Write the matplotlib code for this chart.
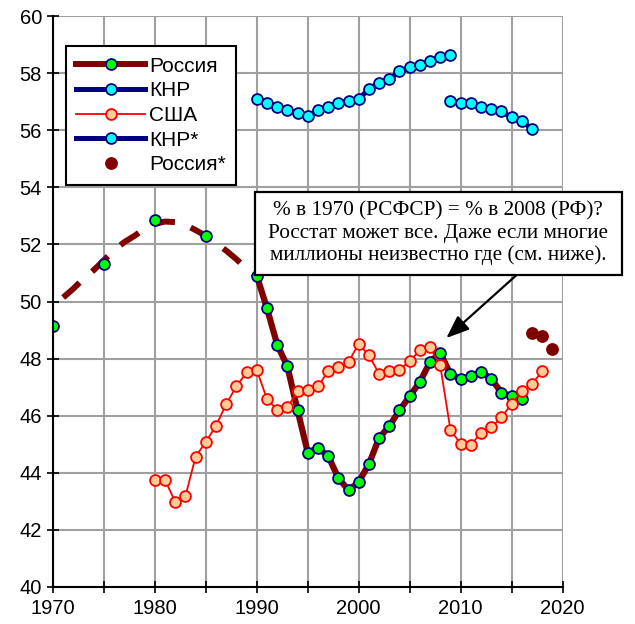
import matplotlib
matplotlib.use("Agg")
import matplotlib.pyplot as plt
from matplotlib.patches import Rectangle

plt.rcParams['font.family'] = ['Liberation Sans', 'DejaVu Sans']

# ---------------- data ----------------
rus_years = [1970, 1975, 1980, 1985, 1990, 1991, 1992, 1993, 1994, 1995, 1996, 1997,
             1998, 1999, 2000, 2001, 2002, 2003, 2004, 2005, 2006, 2007, 2008, 2009,
             2010, 2011, 2012, 2013, 2014, 2015, 2016]
rus_vals = [49.15, 51.3, 52.85, 52.3, 50.9, 49.76, 48.49, 47.73, 46.19, 44.71, 44.87, 44.59,
            43.82, 43.39, 43.68, 44.30, 45.22, 45.63, 46.19, 46.68, 47.18, 47.88, 48.21, 47.45,
            47.30, 47.38, 47.53, 47.30, 46.81, 46.68, 46.60]

# smoothed trend drawn dashed (1971-1990)
rus_trend_years = list(range(1971, 1991))
rus_trend_vals = [50.14, 50.45, 50.8, 51.1, 51.45, 51.8, 52.08, 52.3, 52.55, 52.72,
                  52.8, 52.78, 52.68, 52.5, 52.3, 52.05, 51.78, 51.48, 51.15, 50.87]

chn_years = list(range(1990, 2010))
chn_vals = [57.09, 56.97, 56.82, 56.71, 56.59, 56.50, 56.70, 56.82, 56.95, 57.03,
            57.09, 57.44, 57.67, 57.79, 58.06, 58.20, 58.28, 58.41, 58.57, 58.63]

chn2_years = list(range(2009, 2018))
chn2_vals = [57.03, 56.95, 56.97, 56.80, 56.74, 56.66, 56.45, 56.33, 56.04]

usa_years = list(range(1980, 2019))
usa_vals = [43.75, 43.75, 42.97, 43.19, 44.57, 45.08, 45.65, 46.41, 47.03, 47.52,
            47.60, 46.58, 46.21, 46.29, 46.85, 46.91, 47.03, 47.55, 47.69, 47.88,
            48.52, 48.11, 47.47, 47.55, 47.61, 47.91, 48.29, 48.39, 47.76, 45.51,
            45.01, 44.96, 45.41, 45.59, 45.94, 46.41, 46.85, 47.11, 47.55]

rus2_years = [2017, 2018, 2019]
rus2_vals = [48.91, 48.79, 48.35]

labels = ['Россия', 'КНР', 'США', 'КНР*', 'Россия*']
xticks = list(range(1970, 2021, 5))
xticklabels = ['1970', '', '1980', '', '1990', '', '2000', '', '2010', '', '2020']
yticks = list(range(40, 61, 2))

note = "% в 1970 (РСФСР) = % в 2008 (РФ)?\nРосстат может все. Даже если многие\nмиллионы неизвестно где (см. ниже)."

# ---------------- style ----------------
DARKRED = '#800000'
NAVY = '#000080'
GREEN = '#00ff00'
CYAN = '#00ffff'
RED = '#ff0000'
PEACH = '#ffcc99'

W, H = 635, 624
fig = plt.figure(figsize=(W / 100, H / 100), dpi=100)
x0, x1 = 53, 562.5
y0, y1 = 587, 16
ax = fig.add_axes([x0 / W, 1 - y0 / H, (x1 - x0) / W, (y0 - y1) / H])
ax.set_xlim(1970, 2020)
ax.set_ylim(40, 60)

ms = 7.8
mew = 1.3

# Russia dashed trend
tr, = ax.plot(rus_trend_years, rus_trend_vals, color=DARKRED, lw=4.3,
              solid_capstyle='butt', zorder=3)
tr.set_dashes((3.7, 2.8))
tr.set_dash_capstyle('butt')

# Russia solid part (from 1990)
i90 = rus_years.index(1990)
ax.plot(rus_years[i90:], rus_vals[i90:], color=DARKRED, lw=4.5,
        solid_joinstyle='round', solid_capstyle='round', zorder=3)
ax.plot(rus_years, rus_vals, ls='none', marker='o', ms=ms, mfc=GREEN, mec=NAVY,
        mew=mew, zorder=4)
h_rus, = ax.plot([], [], color=DARKRED, lw=4.3, marker='o', ms=ms, mfc=GREEN,
                 mec=NAVY, mew=mew)

# China
h_chn, = ax.plot(chn_years, chn_vals, color=NAVY, lw=3.6, marker='o', ms=ms,
                 mfc=CYAN, mec=NAVY, mew=mew, zorder=5)

# USA
h_usa, = ax.plot(usa_years, usa_vals, color=RED, lw=1.3, marker='o', ms=ms,
                 mfc=PEACH, mec=RED, mew=mew, zorder=6)

# China*
h_chn2, = ax.plot(chn2_years, chn2_vals, color=NAVY, lw=3.6, marker='o', ms=ms,
                  mfc=CYAN, mec=NAVY, mew=mew, zorder=5)

# Russia*
h_rus2, = ax.plot(rus2_years, rus2_vals, ls='none', marker='o', ms=8.2, mfc=DARKRED,
                  mec=DARKRED, zorder=6)

# axes styling
ax.set_xticks(xticks)
ax.set_xticklabels(xticklabels)
ax.set_yticks(yticks)
ax.set_yticklabels([str(v) for v in yticks])
ax.grid(True, color='#a0a0a0', lw=1.5)
ax.set_axisbelow(True)
for s in ['top', 'right']:
    ax.spines[s].set_visible(False)
for s in ['left', 'bottom']:
    ax.spines[s].set_linewidth(1.5)
    ax.spines[s].set_color('black')
    ax.spines[s].set_zorder(7)
ax.tick_params(axis='both', direction='inout', length=8, width=1.2,
               labelsize=14.5, colors='black')
ax.tick_params(axis='x', pad=5)
ax.tick_params(axis='y', pad=4)

leg = ax.legend([h_rus, h_chn, h_usa, h_chn2, h_rus2], labels,
                loc='upper left', bbox_to_anchor=(0.025, 0.947),
                fontsize=15, frameon=True, fancybox=False, framealpha=1,
                edgecolor='black', handlelength=3.3, handletextpad=0.2,
                labelspacing=0.27, borderpad=0.5, borderaxespad=0)
leg.get_frame().set_linewidth(1.5)
leg.set_zorder(10)

# annotation box
bx0, by0, bx1, by1 = 255, 191.7, 621.7, 275
fig.patches.append(Rectangle((bx0 / W, 1 - by1 / H), (bx1 - bx0) / W, (by1 - by0) / H,
                             transform=fig.transFigure, facecolor='white',
                             edgecolor='black', lw=1.6, zorder=20))
fig.text((bx0 + bx1) / 2 / W, 1 - (by0 + by1) / 2 / H, note, ha='center', va='center',
         family=['Liberation Serif', 'DejaVu Serif'], fontsize=15.3, linespacing=1.2,
         zorder=21)

# arrow: tail at box bottom, tip near 2008 peak
ax.annotate('', xy=(2008.6, 48.72), xytext=(2015.5, 50.93),
            arrowprops=dict(arrowstyle='-|>,head_length=1.4,head_width=0.55',
                            color='black', lw=1.6, shrinkA=0, shrinkB=0),
            zorder=21, annotation_clip=False)

fig.savefig('out.png', dpi=100)
